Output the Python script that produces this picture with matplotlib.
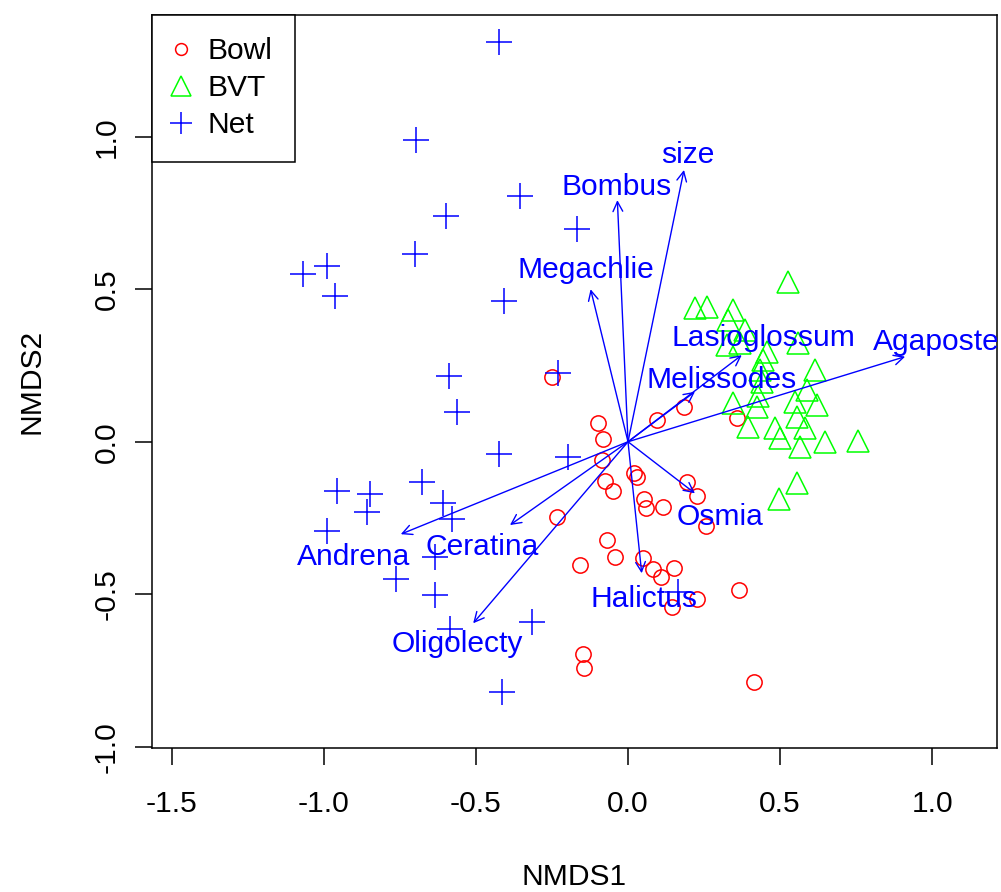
import numpy as np
import matplotlib.pyplot as plt
from matplotlib.lines import Line2D

plt.rcParams['font.family'] = ['Liberation Sans', 'DejaVu Sans']
plt.rcParams['axes.unicode_minus'] = False

# site scores (NMDS1, NMDS2) by trap method
bowl_x = [-0.251, -0.098, -0.081, -0.086, -0.076, -0.048, 0.094, 0.184, 0.020, 0.029,
          0.195, 0.228, 0.053, 0.059, 0.114, 0.256, -0.234, -0.070, -0.043, -0.158,
          0.050, 0.081, 0.107, 0.151, 0.226, 0.144, 0.366, -0.149, -0.144, 0.414, 0.359]
bowl_y = [0.211, 0.060, 0.008, -0.060, -0.128, -0.161, 0.071, 0.115, -0.102, -0.115,
          -0.133, -0.178, -0.189, -0.218, -0.215, -0.276, -0.246, -0.322, -0.379, -0.404,
          -0.382, -0.418, -0.443, -0.415, -0.517, -0.543, -0.486, -0.697, -0.743, -0.787, 0.077]

bvt_x = [0.527, 0.220, 0.259, 0.346, 0.330, 0.385, 0.324, 0.368, 0.560, 0.456,
         0.445, 0.434, 0.615, 0.439, 0.587, 0.346, 0.423, 0.549, 0.620, 0.555,
         0.395, 0.483, 0.582, 0.500, 0.565, 0.648, 0.755, 0.555, 0.497, 0.428]
bvt_y = [0.525, 0.437, 0.443, 0.432, 0.399, 0.366, 0.317, 0.323, 0.323, 0.295,
         0.268, 0.235, 0.235, 0.197, 0.170, 0.126, 0.115, 0.131, 0.120, 0.082,
         0.049, 0.044, 0.044, 0.011, -0.016, 0.000, 0.003, -0.134, -0.188, 0.150]

net_x = [-0.424, -0.696, -0.354, -0.598, -0.167, -0.699, -1.068, -0.990, -0.963, -0.407,
         -0.587, -0.563, -0.230, -0.425, -0.196, -0.956, -0.847, -0.859, -0.676, -0.609,
         -0.580, -0.988, -0.633, -0.763, -0.634, -0.585, -0.315, -0.415, 0.164]
net_y = [1.310, 0.988, 0.807, 0.740, 0.696, 0.616, 0.549, 0.575, 0.479, 0.462,
         0.215, 0.096, 0.224, -0.040, -0.049, -0.162, -0.172, -0.230, -0.131, -0.202,
         -0.253, -0.292, -0.379, -0.449, -0.503, -0.614, -0.592, -0.820, -0.493]

# fitted vectors
vec_names = ['size', 'Bombus', 'Megachlie', 'Lasioglossum', 'Agapostemon', 'Melissodes',
             'Osmia', 'Halictus', 'Oligolecty', 'Ceratina', 'Andrena']
vec_x = [0.184, -0.035, -0.123, 0.374, 0.911, 0.220, 0.220, 0.045, -0.509, -0.388, -0.747]
vec_y = [0.891, 0.792, 0.500, 0.284, 0.279, 0.164, -0.169, -0.431, -0.595, -0.273, -0.303]
lab_x = [0.195, -0.038, -0.140, 0.445, 1.111, 0.307, 0.301, 0.052, -0.560, -0.478, -0.903]
lab_y = [0.913, 0.809, 0.536, 0.315, 0.301, 0.175, -0.273, -0.543, -0.689, -0.372, -0.404]

fs = 21.6
fig = plt.figure(figsize=(10.01, 8.92), dpi=100)
ax = fig.add_axes([0.1521, 0.1614, 0.8439, 0.8218])

ax.plot(bowl_x, bowl_y, 'o', ms=11, mfc='none', mec='#ff0000', mew=1.1, ls='none')
ax.plot(bvt_x, bvt_y, '^', ms=16, mfc='none', mec='#00ff00', mew=1.1, ls='none')
ax.plot(net_x, net_y, '+', ms=19, mec='#0000ff', mew=1.1, ls='none')

for i in range(len(vec_names)):
    ax.annotate('', xy=(vec_x[i], vec_y[i]), xytext=(0, 0),
                arrowprops=dict(arrowstyle='->,head_length=0.5,head_width=0.25',
                                color='#0000ff', lw=1.0, shrinkA=0, shrinkB=0,
                                mutation_scale=14))
    ax.text(lab_x[i], lab_y[i], vec_names[i], color='#0000ff', fontsize=fs,
            ha='center', va='baseline', clip_on=True)

ax.set_xlim(-1.564, 1.213)
ax.set_ylim(-1.004, 1.399)
ax.set_xticks([-1.5, -1.0, -0.5, 0.0, 0.5, 1.0])
ax.set_xticklabels(['-1.5', '-1.0', '-0.5', '0.0', '0.5', '1.0'], fontsize=fs)
ax.set_yticks([-1.0, -0.5, 0.0, 0.5, 1.0])
ax.set_yticklabels(['-1.0', '-0.5', '0.0', '0.5', '1.0'], fontsize=fs,
                   rotation=90, va='center')
ax.tick_params(axis='x', length=12.5, width=1.1, pad=18)
ax.tick_params(axis='y', length=12.5, width=1.1, pad=10)
for s in ax.spines.values():
    s.set_linewidth(1.1)

fig.text(574.5 / 1001, 1 - 885 / 892, 'NMDS1', fontsize=fs, ha='center', va='baseline')
fig.text(40 / 1001, 1 - 381.5 / 892, 'NMDS2', fontsize=fs, ha='center', va='baseline',
         rotation=90, rotation_mode='anchor')

handles = [Line2D([], [], marker='o', ms=8.5, mfc='none', mec='#ff0000', mew=1.1, ls='none'),
           Line2D([], [], marker='^', ms=14, mfc='none', mec='#00ff00', mew=1.1, ls='none'),
           Line2D([], [], marker='+', ms=16, mec='#0000ff', mew=1.1, ls='none')]
leg = ax.legend(handles, ['Bowl', 'BVT', 'Net'], loc='upper left', bbox_to_anchor=(0, 1),
                borderaxespad=0, fancybox=False, edgecolor='black', framealpha=1,
                fontsize=fs, handlelength=0.4, handletextpad=0.7, borderpad=0.75,
                labelspacing=0.3)
leg.get_frame().set_linewidth(1.1)

fig.savefig('out.png', dpi=100)
